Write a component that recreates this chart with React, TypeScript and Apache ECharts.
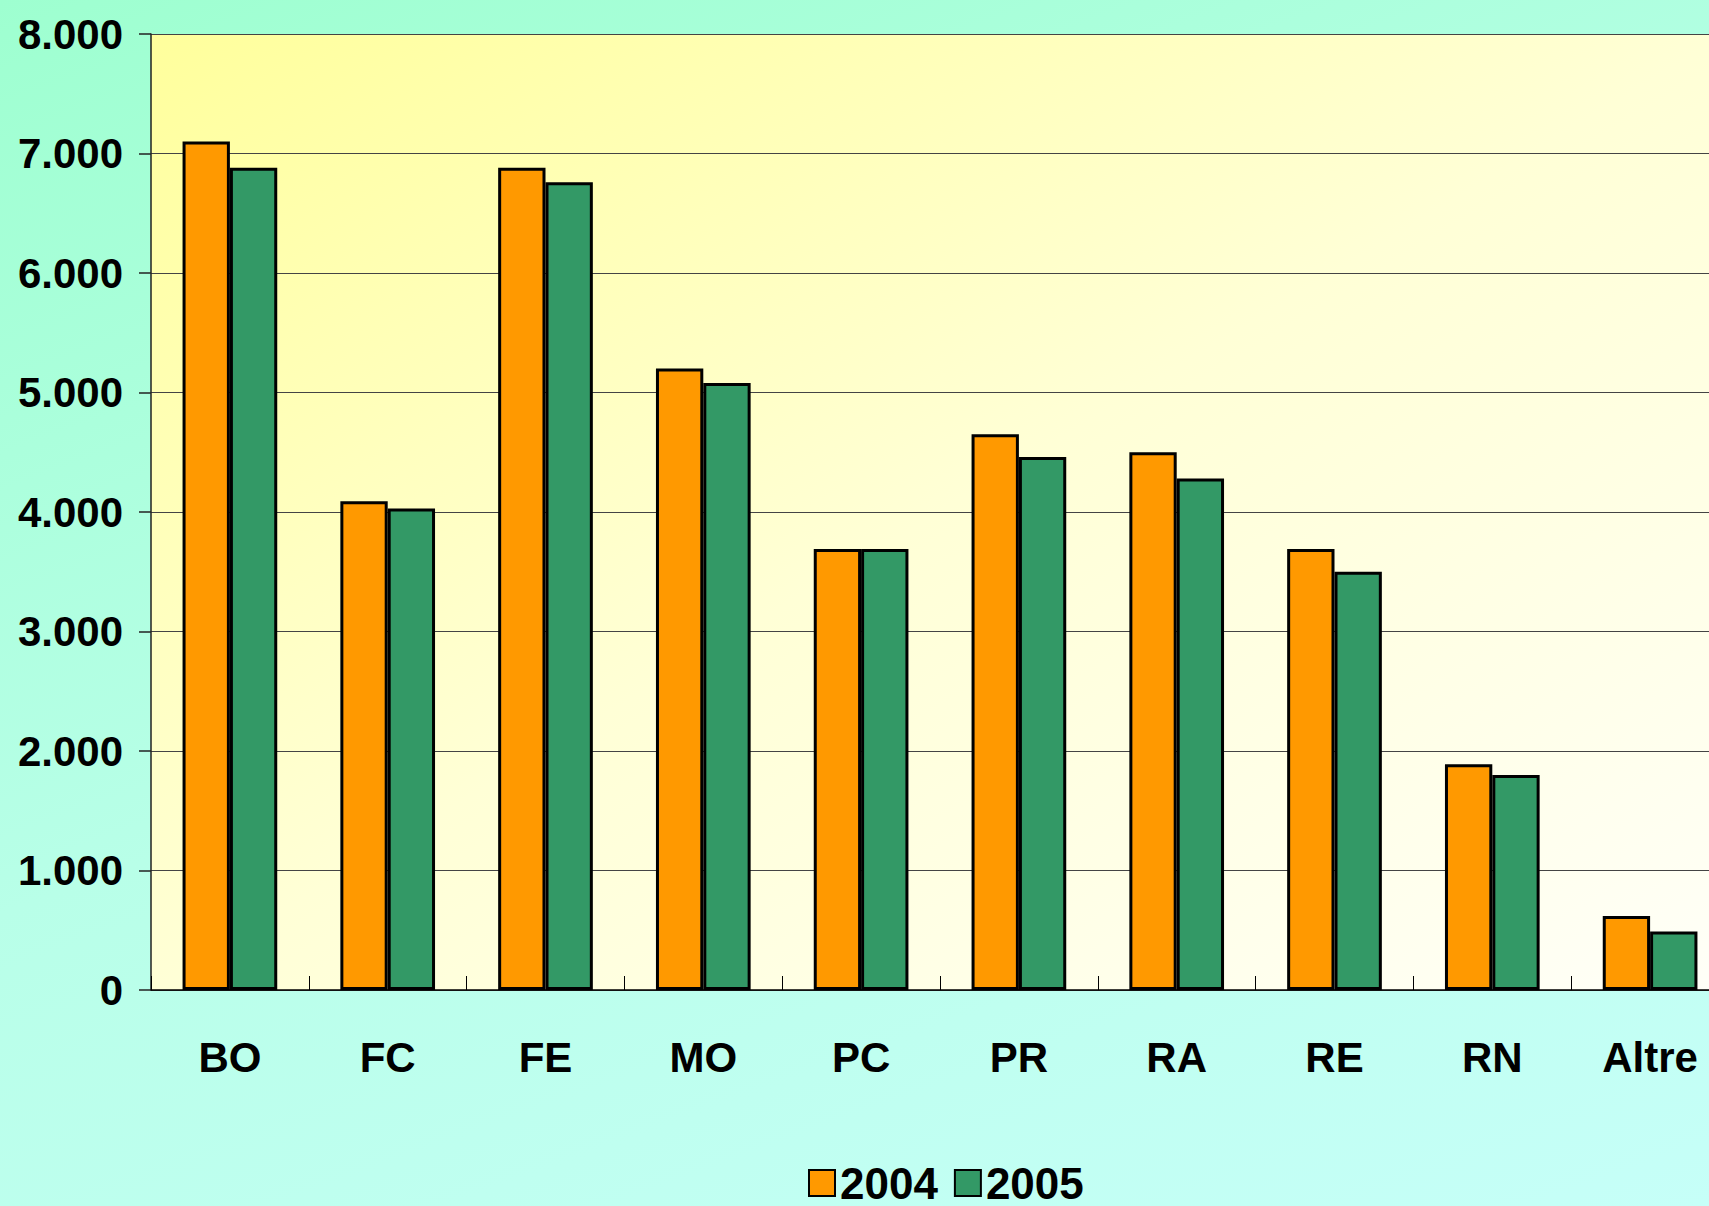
import React, { useEffect, useRef } from "react";
import * as echarts from "echarts";

const categories = ["BO", "FC", "FE", "MO", "PC", "PR", "RA", "RE", "RN", "Altre"];
const values2004 = [7100, 4090, 6880, 5200, 3690, 4650, 4500, 3690, 1890, 620];
const values2005 = [6880, 4030, 6760, 5080, 3690, 4460, 4280, 3500, 1800, 490];
const seriesNames = ["2004", "2005"];

const FONT = "'Liberation Sans', Arial, sans-serif";

export default function App() {
  const ref = useRef<HTMLDivElement>(null);
  useEffect(() => {
    document.body.style.margin = "0";
    if (!ref.current) return;
    const chart = echarts.init(ref.current, null, { renderer: "svg" });
    const barStyle = (color: string) => ({
      color,
      borderColor: "#000",
      borderWidth: 3,
    });
    chart.setOption({
      animation: false,
      textStyle: { fontFamily: FONT },
      grid: {
        left: 151,
        top: 34,
        width: 1578,
        height: 956,
        outerBoundsMode: "none",
        containLabel: false,
        show: true,
        borderWidth: 0,
        backgroundColor: new echarts.graphic.LinearGradient(0, 0, 1, 1, [
          { offset: 0, color: "#FFFF9C" },
          { offset: 0.5, color: "#FFFFD6" },
          { offset: 1, color: "#FFFFF8" },
        ]),
      },
      legend: {
        data: seriesNames,
        left: 803,
        top: 1156,
        icon: "rect",
        itemWidth: 26,
        itemHeight: 26,
        itemGap: 16,
        textStyle: {
          fontFamily: FONT,
          fontWeight: "bold",
          fontSize: 44,
          lineHeight: 38,
          color: "#000",
        },
      },
      xAxis: {
        type: "category",
        data: categories,
        axisLine: { show: true, lineStyle: { color: "#000", width: 1.5 } },
        axisTick: {
          show: true,
          inside: true,
          length: 14,
          interval: 0,
          lineStyle: { color: "#000", width: 1 },
        },
        axisLabel: {
          fontFamily: FONT,
          fontWeight: "bold",
          fontSize: 42,
          color: "#000",
          margin: 46,
          interval: 0,
        },
        splitLine: { show: false },
      },
      yAxis: {
        type: "value",
        min: 0,
        max: 8000,
        interval: 1000,
        axisLine: { show: true, lineStyle: { color: "#222", width: 1.5 } },
        axisTick: { show: true, length: 12, lineStyle: { color: "#222", width: 1.5 } },
        axisLabel: {
          fontFamily: FONT,
          fontWeight: "bold",
          fontSize: 42,
          color: "#000",
          margin: 28,
          formatter: (v: number) =>
            v >= 1000 ? Math.floor(v / 1000) + "." + String(v % 1000).padStart(3, "0") : String(v),
        },
        splitLine: { show: true, lineStyle: { color: "#444", width: 1.2 } },
      },
      series: [
        {
          name: seriesNames[0],
          type: "bar",
          data: values2004,
          barGap: "0%",
          barCategoryGap: "40%",
          itemStyle: barStyle("#FF9900"),
        },
        {
          name: seriesNames[1],
          type: "bar",
          data: values2005,
          barGap: "0%",
          barCategoryGap: "40%",
          itemStyle: barStyle("#339966"),
        },
      ],
    });
    return () => chart.dispose();
  }, []);
  return (
    <div
      ref={ref}
      style={{
        width: 1709,
        height: 1206,
        background: "linear-gradient(160deg, #9EFFD0 0%, #B8FFE8 50%, #C6FFF8 100%)",
      }}
    />
  );
}
